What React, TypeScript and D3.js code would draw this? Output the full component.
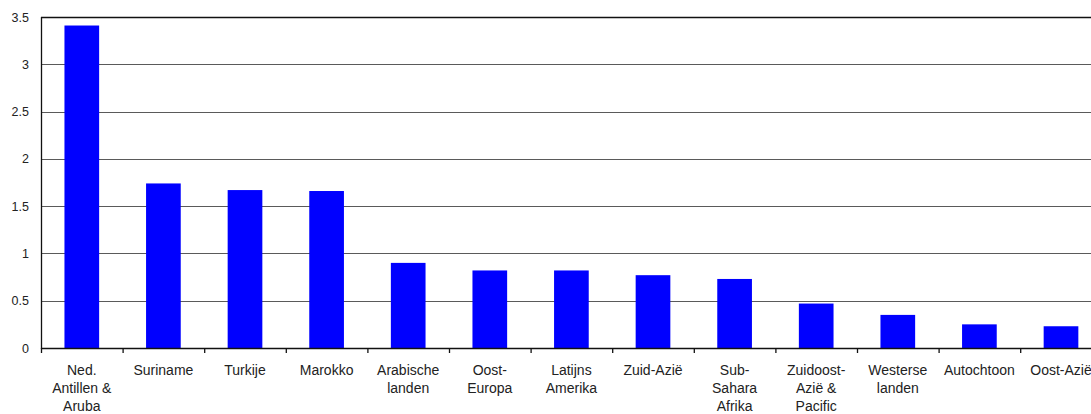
import React from "react";
import * as d3 from "d3";

const categories: string[][] = [
  ["Ned.", "Antillen &", "Aruba"],
  ["Suriname"],
  ["Turkije"],
  ["Marokko"],
  ["Arabische", "landen"],
  ["Oost-", "Europa"],
  ["Latijns", "Amerika"],
  ["Zuid-Azië"],
  ["Sub-", "Sahara", "Afrika"],
  ["Zuidoost-", "Azië &", "Pacific"],
  ["Westerse", "landen"],
  ["Autochtoon"],
  ["Oost-Azië"],
];
const values: number[] = [3.41, 1.74, 1.67, 1.66, 0.9, 0.82, 0.82, 0.77, 0.73, 0.47, 0.35, 0.25, 0.23];
const yTicks: number[] = [0, 0.5, 1, 1.5, 2, 2.5, 3, 3.5];

export default function App() {
  const W = 1091, H = 414;
  const left = 41, top = 17, bottom = 348;
  const bandW = 81.6;
  const right = left + bandW * categories.length;
  const keys = categories.map((_, i) => String(i));
  const x = d3.scaleBand<string>().domain(keys).range([left, right]).paddingInner(0.575).paddingOuter(0.2875);
  const y = d3.scaleLinear().domain([0, 3.5]).range([bottom, top]);
  const font = "'Liberation Sans', Arial, sans-serif";
  const boundaries = d3.range(categories.length + 1).map((i) => left + i * bandW);
  return (
    <div style={{ position: "absolute", left: 0, top: 0 }}>
      <svg width={W} height={H} style={{ display: "block" }}>
        <rect width={W} height={H} fill="#fff" />
        {yTicks.filter((t) => t > 0 && t < 3.5).map((t) => (
          <line key={t} x1={left} x2={W} y1={Math.round(y(t)) + 0.5} y2={Math.round(y(t)) + 0.5} stroke="#5a5a5a" strokeWidth={1.2} />
        ))}
        {values.map((v, i) => (
          <rect key={i} x={x(String(i))} width={x.bandwidth()} y={y(v)} height={y(0) - y(v)} fill="#0000ff" />
        ))}
        <line x1={left} x2={W} y1={top + 0.5} y2={top + 0.5} stroke="#111" strokeWidth={1.3} />
        <line x1={left} x2={W} y1={bottom + 0.5} y2={bottom + 0.5} stroke="#111" strokeWidth={1.3} />
        <line x1={left + 0.5} x2={left + 0.5} y1={top} y2={bottom + 1} stroke="#111" strokeWidth={1.3} />
        {boundaries.map((b, i) => (
          <line key={i} x1={b + 0.5} x2={b + 0.5} y1={bottom} y2={bottom + 5} stroke="#111" strokeWidth={1.3} />
        ))}
        {yTicks.map((t) => (
          <text key={t} x={29} y={y(t) + 4.5} textAnchor="end" fontFamily={font} fontSize={12.5} fill="#222">
            {String(t)}
          </text>
        ))}
        {categories.map((lines, i) => (
          <text key={i} textAnchor="middle" fontFamily={font} fontSize={14} fill="#222">
            {lines.map((l, j) => (
              <tspan key={j} x={(x(String(i)) as number) + x.bandwidth() / 2} y={375 + j * 18}>
                {l}
              </tspan>
            ))}
          </text>
        ))}
      </svg>
    </div>
  );
}
